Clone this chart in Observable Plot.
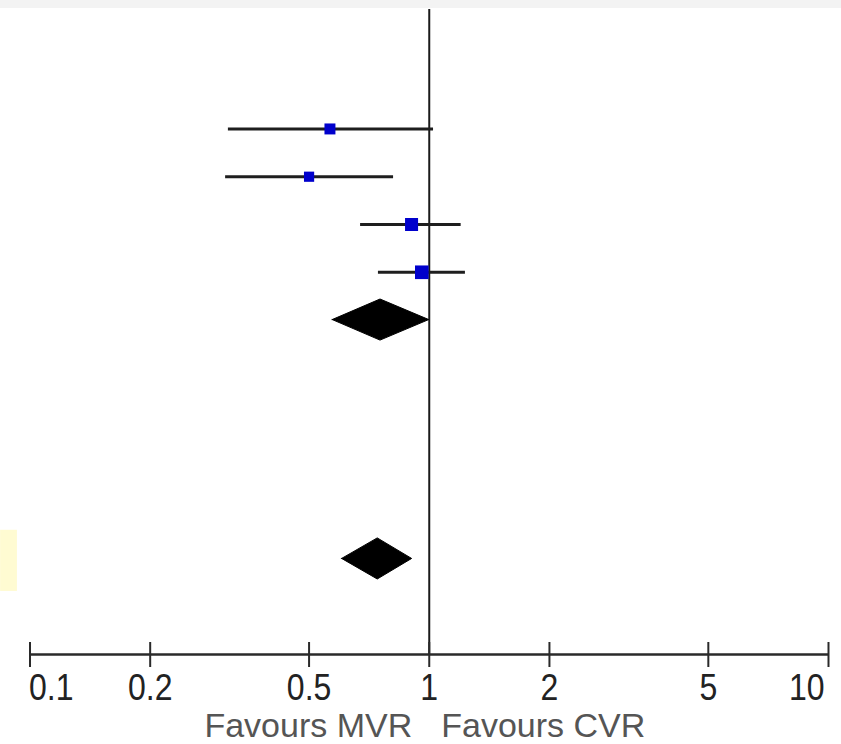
<!DOCTYPE html>
<html>
<head>
<meta charset="utf-8">
<script src="https://cdn.jsdelivr.net/npm/d3@7"></script>
<script src="https://cdn.jsdelivr.net/npm/@observablehq/plot@0.6"></script>
<style>
  html, body { margin: 0; padding: 0; background: #fff; overflow: hidden; }
  #chart svg { display: block; }
</style>
</head>
<body>
<div id="chart"></div>
<script>
// ---- data ----
const studyRows   = [1, 2, 3, 4];
const studyEst    = [0.564, 0.500, 0.903, 0.958];
const studyLo     = [0.314, 0.309, 0.673, 0.746];
const studyHi     = [1.025, 0.814, 1.202, 1.232];
const studyWeight = [22, 19, 31, 34];

const pooledRows = [5, 10];
const pooledEst  = [0.755, 0.743];
const pooledLo   = [0.573, 0.605];
const pooledHi   = [1.000, 0.906];

const tickValues = [0.1, 0.2, 0.5, 1, 2, 5, 10];
const tickLabels = ["0.1", "0.2", "0.5", "1", "2", "5", "10"];
const favourLabels = ["Favours MVR", "Favours CVR"];

const highlightRow = 10;          // partially visible highlighted label cell
const highlightX   = [0.0844, 0.093];

const yDomain = [-1.5, 12];       // row units; the x axis sits on the last row
const diamondHalf = 0.43;         // half height of pooled diamonds (row units)

// ---- tables ----
const studies = studyRows.map((row, i) => ({
  row, est: studyEst[i], lo: studyLo[i], hi: studyHi[i], w: studyWeight[i]
}));
const diamonds = pooledRows.flatMap((row, i) => [
  {g: i, x: pooledLo[i],  y1: row,               y2: row},
  {g: i, x: pooledEst[i], y1: row - diamondHalf, y2: row + diamondHalf},
  {g: i, x: pooledHi[i],  y1: row,               y2: row}
]);
const ticks = tickValues.map((v, i) => ({v, label: tickLabels[i]}));

const font = "Liberation Sans, Arial, Helvetica, sans-serif";

const chart = Plot.plot({
  width: 841,
  height: 744,
  marginLeft: 29.5,
  marginRight: 13,
  marginTop: 9,
  marginBottom: 90,
  style: {
    fontFamily: font,
    background: "linear-gradient(#f3f3f3 0 8px, #ffffff 8px)",
    overflow: "visible"
  },
  x: {type: "log", domain: [0.1, 10], axis: null},
  y: {domain: yDomain, reverse: true, axis: null},
  r: {range: [0, 7.7]},
  marks: [
    // highlighted label cell at the far left
    Plot.rect([highlightRow], {
      x1: highlightX[0], x2: highlightX[1],
      y1: d => d - 0.6, y2: d => d + 0.68,
      fill: "#fffbd2"
    }),
    // line of no effect
    Plot.ruleX([1], {stroke: "#1a1a1a", strokeWidth: 2}),
    // x axis line
    Plot.ruleY([yDomain[1]], {stroke: "#2a2a2a", strokeWidth: 2.6}),
    // axis ticks crossing the axis line
    Plot.axisX({
      anchor: "bottom",
      ticks: tickValues,
      tickSize: 25,
      dy: -12,
      tickFormat: () => "",
      stroke: "#2a2a2a",
      strokeWidth: 2,
      label: null
    }),
    // confidence intervals
    Plot.ruleY(studies, {y: "row", x1: "lo", x2: "hi", stroke: "#1e1e1e", strokeWidth: 3}),
    // study estimates
    Plot.dot(studies, {x: "est", y: "row", r: "w", symbol: "square", fill: "#0000cc", stroke: "none"}),
    // pooled diamonds
    Plot.areaY(diamonds, {x: "x", y1: "y1", y2: "y2", z: "g", fill: "#000", stroke: "#000", strokeWidth: 1}),
    // tick labels
    Plot.text(ticks.slice(0, 1), {x: "v", text: "label", frameAnchor: "bottom", lineAnchor: "bottom",
      dy: 45, textAnchor: "start", dx: -1, fontSize: 33, fill: "#222", fontFamily: font, className: "tall"}),
    Plot.text(ticks.slice(1, -1), {x: "v", text: "label", frameAnchor: "bottom", lineAnchor: "bottom",
      dy: 45, textAnchor: "middle", fontSize: 33, fill: "#222", fontFamily: font, className: "tall"}),
    Plot.text(ticks.slice(-1), {x: "v", text: "label", frameAnchor: "bottom", lineAnchor: "bottom",
      dy: 45, textAnchor: "end", dx: -4, fontSize: 33, fill: "#222", fontFamily: font, className: "tall"}),
    // direction labels
    Plot.text([1], {x: d => d, text: () => favourLabels[0], frameAnchor: "bottom", lineAnchor: "bottom",
      dy: 82, dx: -17, textAnchor: "end", fontSize: 34, fill: "#555", fontFamily: font}),
    Plot.text([1], {x: d => d, text: () => favourLabels[1], frameAnchor: "bottom", lineAnchor: "bottom",
      dy: 82, dx: 12, textAnchor: "start", fontSize: 34, fill: "#555", fontFamily: font})
  ]
});

// the reference tick lettering is slightly tall and narrow: stretch it about its baseline anchor
chart.querySelectorAll(".tall text").forEach(t => {
  const tr = t.getAttribute("transform");
  if (tr && tr.startsWith("translate")) t.setAttribute("transform", tr + " scale(0.97,1.12)");
});

document.getElementById("chart").append(chart);
</script>
</body>
</html>
